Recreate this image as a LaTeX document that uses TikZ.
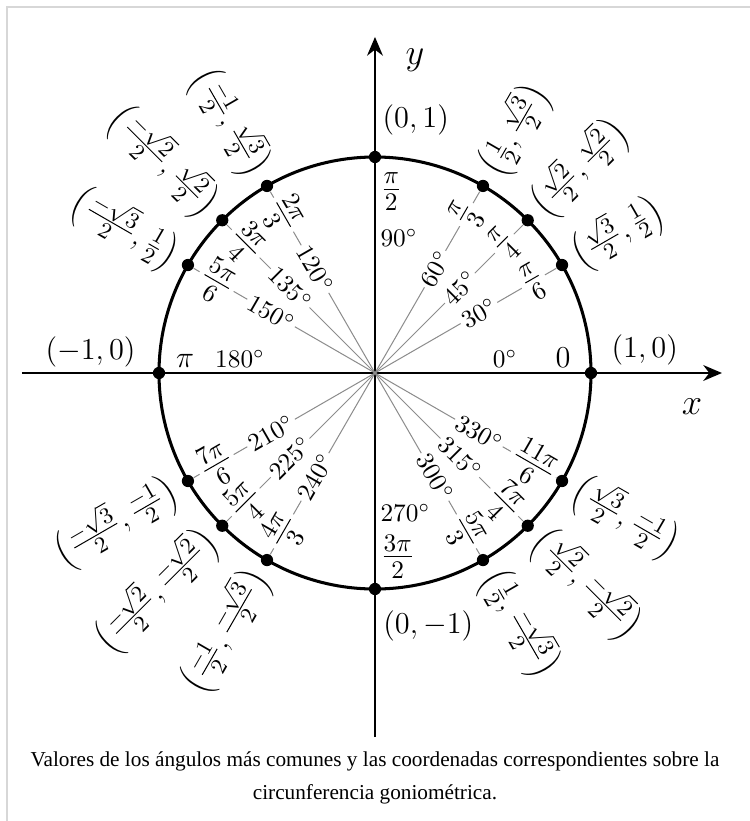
\documentclass[tikz,border=0pt]{standalone}
\usepackage{fontspec}
\newfontfamily\captionfont{Liberation Serif}
\usetikzlibrary{arrows.meta}
\definecolor{spokegray}{RGB}{140,140,140}
\definecolor{framegray}{RGB}{215,215,215}
\tikzset{
  axis/.style={
    line width=0.8pt,
    -{Stealth[length=2.6mm,width=2.2mm]}
  },
  unitcircle/.style={ line width=1.2pt },
  spoke/.style={ draw=spokegray, line width=0.4pt },
  dot/.style={
    circle,
    fill=black,
    inner sep=0pt,
    minimum size=0.17cm
  },
  deglabel/.style={ fill=white, inner sep=1pt, font=\normalsize },
  radlabel/.style={ fill=white, inner sep=1pt, font=\Large },
  ptlabel/.style={ inner sep=0pt, font=\fontsize{13.2}{16}\selectfont },
  axlabel/.style={ inner sep=0pt, font=\large }
}

\begin{document}
\begin{tikzpicture}
\useasboundingbox (-5.2083,-6.2222) rectangle (5.2083,5.1806);
\draw[framegray, line width=0.8pt] (-5.111,-6.2222) -- (-5.111,5.083) -- (5.2083,5.083);

% axes
\coordinate (o) at (0,0);
\coordinate (xa) at (-4.903,0);
\coordinate (xb) at (4.819,0);
\coordinate (ya) at (0,-5.056);
\coordinate (yb) at (0,4.667);
\draw[axis] (xa) -- (xb);
\draw[axis] (ya) -- (yb);
\node[font=\Large] (xlab) at (4.403,-0.472) {$x$};
\node[font=\Large] (ylab) at (0.556,4.347) {$y$};

\draw[unitcircle] (o) circle (3);

% right half
\foreach \a/\dg/\rad/\pt in {
  30/30/{\frac{\pi}{6}}/{\frac{\sqrt{3}}{2},\frac{1}{2}},
  45/45/{\frac{\pi}{4}}/{\frac{\sqrt{2}}{2},\frac{\sqrt{2}}{2}},
  60/60/{\frac{\pi}{3}}/{\frac{1}{2},\frac{\sqrt{3}}{2}},
  300/300/{\frac{5\pi}{3}}/{\frac{1}{2},\frac{-\sqrt{3}}{2}},
  315/315/{\frac{7\pi}{4}}/{\frac{\sqrt{2}}{2},\frac{-\sqrt{2}}{2}},
  330/330/{\frac{11\pi}{6}}/{\frac{\sqrt{3}}{2},\frac{-1}{2}}
}{
  \node[dot] (p\a) at (\a:3) {};
  \draw[spoke] (o) -- (p\a);
  \node[deglabel, rotate=\a] (d\a) at (\a:1.667) {$\dg^\circ$};
  \node[radlabel, rotate=\a] (r\a) at (\a:2.54) {$\rad$};
  \node[ptlabel, rotate=\a, anchor=west] (c\a) at (\a:3.2) {$\left(\pt\right)$};
}

% left half
\foreach \a/\dg/\rad/\pt in {
  120/120/{\frac{2\pi}{3}}/{\frac{-1}{2},\frac{\sqrt{3}}{2}},
  135/135/{\frac{3\pi}{4}}/{\frac{-\sqrt{2}}{2},\frac{\sqrt{2}}{2}},
  150/150/{\frac{5\pi}{6}}/{\frac{-\sqrt{3}}{2},\frac{1}{2}},
  210/210/{\frac{7\pi}{6}}/{\frac{-\sqrt{3}}{2},\frac{-1}{2}},
  225/225/{\frac{5\pi}{4}}/{\frac{-\sqrt{2}}{2},\frac{-\sqrt{2}}{2}},
  240/240/{\frac{4\pi}{3}}/{\frac{-1}{2},\frac{-\sqrt{3}}{2}}
}{
  \node[dot] (p\a) at (\a:3) {};
  \draw[spoke] (o) -- (p\a);
  \node[deglabel, rotate=\a-180] (d\a) at (\a:1.667) {$\dg^\circ$};
  \node[radlabel, rotate=\a-180] (r\a) at (\a:2.54) {$\rad$};
  \node[ptlabel, rotate=\a-180, anchor=east] (c\a) at (\a:3.2) {$\left(\pt\right)$};
}

% points on the axes
\node[dot] (p0) at (0:3) {};
\node[dot] (p90) at (90:3) {};
\node[dot] (p180) at (180:3) {};
\node[dot] (p270) at (270:3) {};
\node[above, inner sep=2pt] (d0) at (1.806,0) {$0^\circ$};
\node[above, inner sep=2pt, font=\large] (r0) at (2.611,0) {$0$};
\node[above, inner sep=2pt] (d180) at (-1.875,0) {$180^\circ$};
\node[above, inner sep=2pt, font=\large] (r180) at (-2.639,0) {$\pi$};
\node[right, inner sep=2pt] (d90) at (0,1.875) {$90^\circ$};
\node[right, inner sep=2pt, font=\Large] (r90) at (0,2.514) {$\frac{\pi}{2}$};
\node[right, inner sep=2pt] (d270) at (0,-1.944) {$270^\circ$};
\node[right, inner sep=2pt, font=\Large] (r270) at (0,-2.556) {$\frac{3\pi}{2}$};
\node[axlabel, anchor=south west] (c0) at (3.28,0.1) {$(1,0)$};
\node[axlabel, anchor=south east] (c180) at (-3.32,0.08) {$(-1,0)$};
\node[axlabel, anchor=south west] (c90) at (0.1,3.3) {$(0,1)$};
\node[axlabel, anchor=north west] (c270) at (0.11,-3.3) {$(0,-1)$};

% caption
\node[font=\captionfont\fontsize{8.4}{13}\selectfont, align=center] (caption) at (0,-5.62)
  {Valores de los ángulos más comunes y las coordenadas correspondientes sobre la\\
   circunferencia goniométrica.};
\end{tikzpicture}
\end{document}
